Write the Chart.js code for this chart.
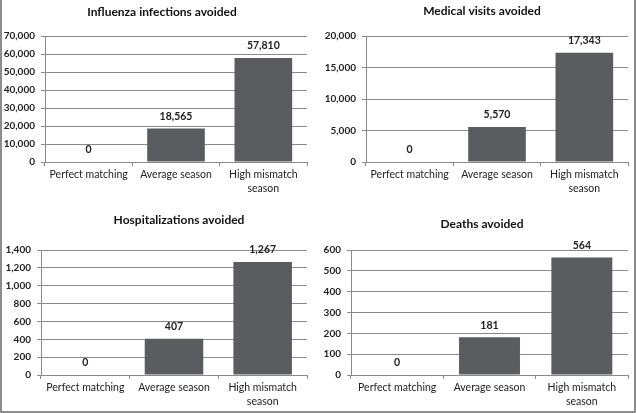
<!DOCTYPE html>
<html>
<head>
<meta charset="utf-8">
<script src="https://cdn.jsdelivr.net/npm/chart.js@4.4.1/dist/chart.umd.min.js"></script>
<style>
    html, body { margin: 0; padding: 0; background: #fff; }
    #frame {
        position: relative;
        width: 636px; height: 413px;
        box-sizing: border-box;
        border-left: 2px solid #8c8c8c;
        border-right: 2px solid #8c8c8c;
        border-bottom: 2px solid #8c8c8c;
        overflow: hidden;
    }
    .panel { position: absolute; }
    .panel canvas { display: block; }
</style>
</head>
<body>
<div id="frame">
    <div class="panel" style="left:-2px; top:0;"><canvas id="chart-infections" width="318" height="206"></canvas></div>
    <div class="panel" style="left:316px; top:0;"><canvas id="chart-visits" width="318" height="206"></canvas></div>
    <div class="panel" style="left:-2px; top:206px;"><canvas id="chart-hosp" width="318" height="207"></canvas></div>
    <div class="panel" style="left:316px; top:206px;"><canvas id="chart-deaths" width="318" height="207"></canvas></div>
</div>
<script>
// --- Data ---
const CATEGORIES = ["Perfect matching", "Average season", ["High mismatch", "season"]];

const TITLES = [
    "Influenza infections avoided",
    "Medical visits avoided",
    "Hospitalizations avoided",
    "Deaths avoided",
];

const INFECTIONS = [0, 18565, 57810];
const VISITS = [0, 5570, 17343];
const HOSPITALIZATIONS = [0, 407, 1267];
const DEATHS = [0, 181, 564];

const Y_MAX = [70000, 20000, 1400, 600];
const Y_STEP = [10000, 5000, 200, 100];

// --- Styling ---
const BAR_COLOR = "#5b5c60";
const GRID_COLOR = "#8a8a8a";
const TEXT_COLOR = "#222";
const FONT = "Lato, 'Open Sans', sans-serif";

// plot boxes inside each canvas: left, right, top, bottom + title position
const BOXES = [
    { left: 45, right: 307, top: 36, bottom: 162, tx: 162, ty: 12 },
    { left: 48, right: 310, top: 36, bottom: 162, tx: 164, ty: 11 },
    { left: 41, right: 307, top: 44, bottom: 169, tx: 179, ty: 14 },
    { left: 33, right: 310, top: 44, bottom: 169, tx: 164, ty: 18 },
];

const fmt = v => Number(v).toLocaleString("en-US");

// draws panel title at a fixed spot
const panelTitle = {
    id: "panelTitle",
    afterDraw(chart, args, opts) {
        const ctx = chart.ctx;
        ctx.save();
        ctx.font = `bold 12px ${FONT}`;
        ctx.fillStyle = "#111";
        ctx.textAlign = "center";
        ctx.textBaseline = "middle";
        ctx.fillText(opts.text, opts.x, opts.y);
        ctx.restore();
    },
};

// value labels above bars
const barValues = {
    id: "barValues",
    afterDatasetsDraw(chart) {
        const ctx = chart.ctx;
        const meta = chart.getDatasetMeta(0);
        const data = chart.data.datasets[0].data;
        ctx.save();
        ctx.font = `bold 10.5px ${FONT}`;
        ctx.fillStyle = TEXT_COLOR;
        ctx.textAlign = "center";
        ctx.textBaseline = "middle";
        meta.data.forEach((bar, i) => {
            ctx.fillText(fmt(data[i]), bar.x, bar.y - 12);
        });
        ctx.restore();
    },
};

function _panel(canvasId, idx, values) {
    const box = BOXES[idx];
    const canvas = document.getElementById(canvasId);
    const W = canvas.width, H = canvas.height;
    return new Chart(canvas, {
        type: "bar",
        data: {
            labels: CATEGORIES,
            datasets: [{
                data: values,
                backgroundColor: BAR_COLOR,
                categoryPercentage: 1,
                barPercentage: 0.66,
            }],
        },
        options: {
            responsive: false,
            animation: false,
            devicePixelRatio: 1,
            layout: { padding: { left: 0, right: W - box.right, top: box.top, bottom: 0 } },
            plugins: {
                legend: { display: false },
                tooltip: { enabled: false },
                title: { display: false },
                panelTitle: { text: TITLES[idx], x: box.tx, y: box.ty },
            },
            scales: {
                x: {
                    afterFit: s => { s.height = H - box.bottom; },
                    grid: { drawOnChartArea: false, drawTicks: true, tickLength: 4, color: GRID_COLOR, offset: true },
                    border: { color: GRID_COLOR, width: 1 },
                    ticks: { color: TEXT_COLOR, font: { family: FONT, size: 10.5, lineHeight: 1.3 }, padding: 2, maxRotation: 0, autoSkip: false },
                },
                y: {
                    min: 0,
                    max: Y_MAX[idx],
                    afterFit: s => { s.width = box.left; },
                    grid: { color: GRID_COLOR, lineWidth: 1, tickLength: 4 },
                    border: { color: GRID_COLOR, width: 1 },
                    ticks: {
                        stepSize: Y_STEP[idx],
                        color: TEXT_COLOR,
                        padding: 6,
                        font: { family: FONT, size: 10, weight: "bold" },
                        callback: v => fmt(v),
                    },
                },
            },
        },
        plugins: [panelTitle, barValues],
    });
}

_panel("chart-infections", 0, INFECTIONS);
_panel("chart-visits", 1, VISITS);
_panel("chart-hosp", 2, HOSPITALIZATIONS);
_panel("chart-deaths", 3, DEATHS);
</script>
</body>
</html>
